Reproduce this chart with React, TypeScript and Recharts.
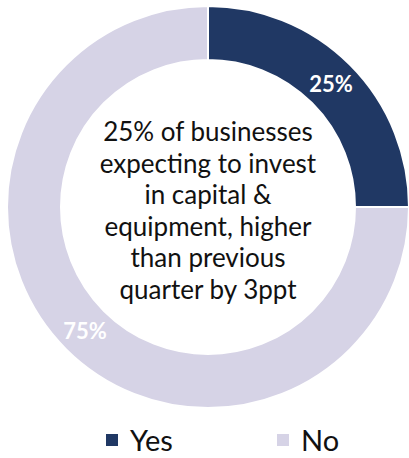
import { Cell, Legend, Pie, PieChart } from "recharts";

const answers = ["Yes", "No"];
const shares = [25, 75];
const sliceColors = ["#203864", "#D6D3E6"];
const centerLines = [
  "25% of businesses",
  "expecting to invest",
  "in capital &",
  "equipment, higher",
  "than previous",
  "quarter by 3ppt",
];

const data = answers.map((name, i) => ({ name, value: shares[i] }));

const CX = 208;
const CY = 207;
const RADIAN = Math.PI / 180;

function SliceLabel(props: any) {
  const { cx, cy, midAngle, innerRadius, outerRadius, value } = props;
  const r = (innerRadius + outerRadius) / 2;
  const x = cx + r * Math.cos(-midAngle * RADIAN);
  const y = cy + r * Math.sin(-midAngle * RADIAN);
  return (
    <text
      x={x}
      y={y}
      fill="#ffffff"
      textAnchor="middle"
      dominantBaseline="central"
      fontFamily="Lato"
      fontWeight={700}
      fontSize={22}
    >
      {value}%
    </text>
  );
}

function CenterText() {
  return (
    <div
      style={{
        position: "absolute",
        left: CX - 140,
        top: 116,
        width: 280,
        textAlign: "center",
        fontFamily: "Lato",
        fontSize: 26,
        lineHeight: "31.5px",
        color: "#111111",
        pointerEvents: "none",
      }}
    >
      {centerLines.map((line) => (
        <div key={line}>{line}</div>
      ))}
    </div>
  );
}

function LegendRow() {
  return (
    <div style={{ position: "relative", height: 40, fontFamily: "Lato", fontSize: 29, color: "#111111" }}>
      {answers.map((name, i) => (
        <div
          key={name}
          style={{ position: "absolute", left: i === 0 ? 106 : 277, top: 0, display: "flex", alignItems: "center" }}
        >
          <span style={{ width: 12, height: 12, background: sliceColors[i], display: "inline-block", marginRight: 12 }} />
          <span>{name}</span>
        </div>
      ))}
    </div>
  );
}

export default function App() {
  return (
    <div style={{ position: "absolute", left: 0, top: 0, width: 409, height: 458, background: "#ffffff" }}>
      <PieChart width={409} height={458} margin={{ top: 0, right: 0, bottom: 0, left: 0 }}>
        <Pie
          data={data}
          dataKey="value"
          nameKey="name"
          cx={CX}
          cy={CY}
          innerRadius={147}
          outerRadius={201}
          startAngle={90}
          endAngle={-270}
          stroke="#ffffff"
          strokeWidth={2}
          label={SliceLabel}
          labelLine={false}
          isAnimationActive={false}
        >
          {data.map((d, i) => (
            <Cell key={d.name} fill={sliceColors[i]} />
          ))}
        </Pie>
        <Legend
          verticalAlign="bottom"
          wrapperStyle={{ left: 0, top: 422, width: 409 }}
          content={() => <LegendRow />}
        />
      </PieChart>
      <CenterText />
    </div>
  );
}
